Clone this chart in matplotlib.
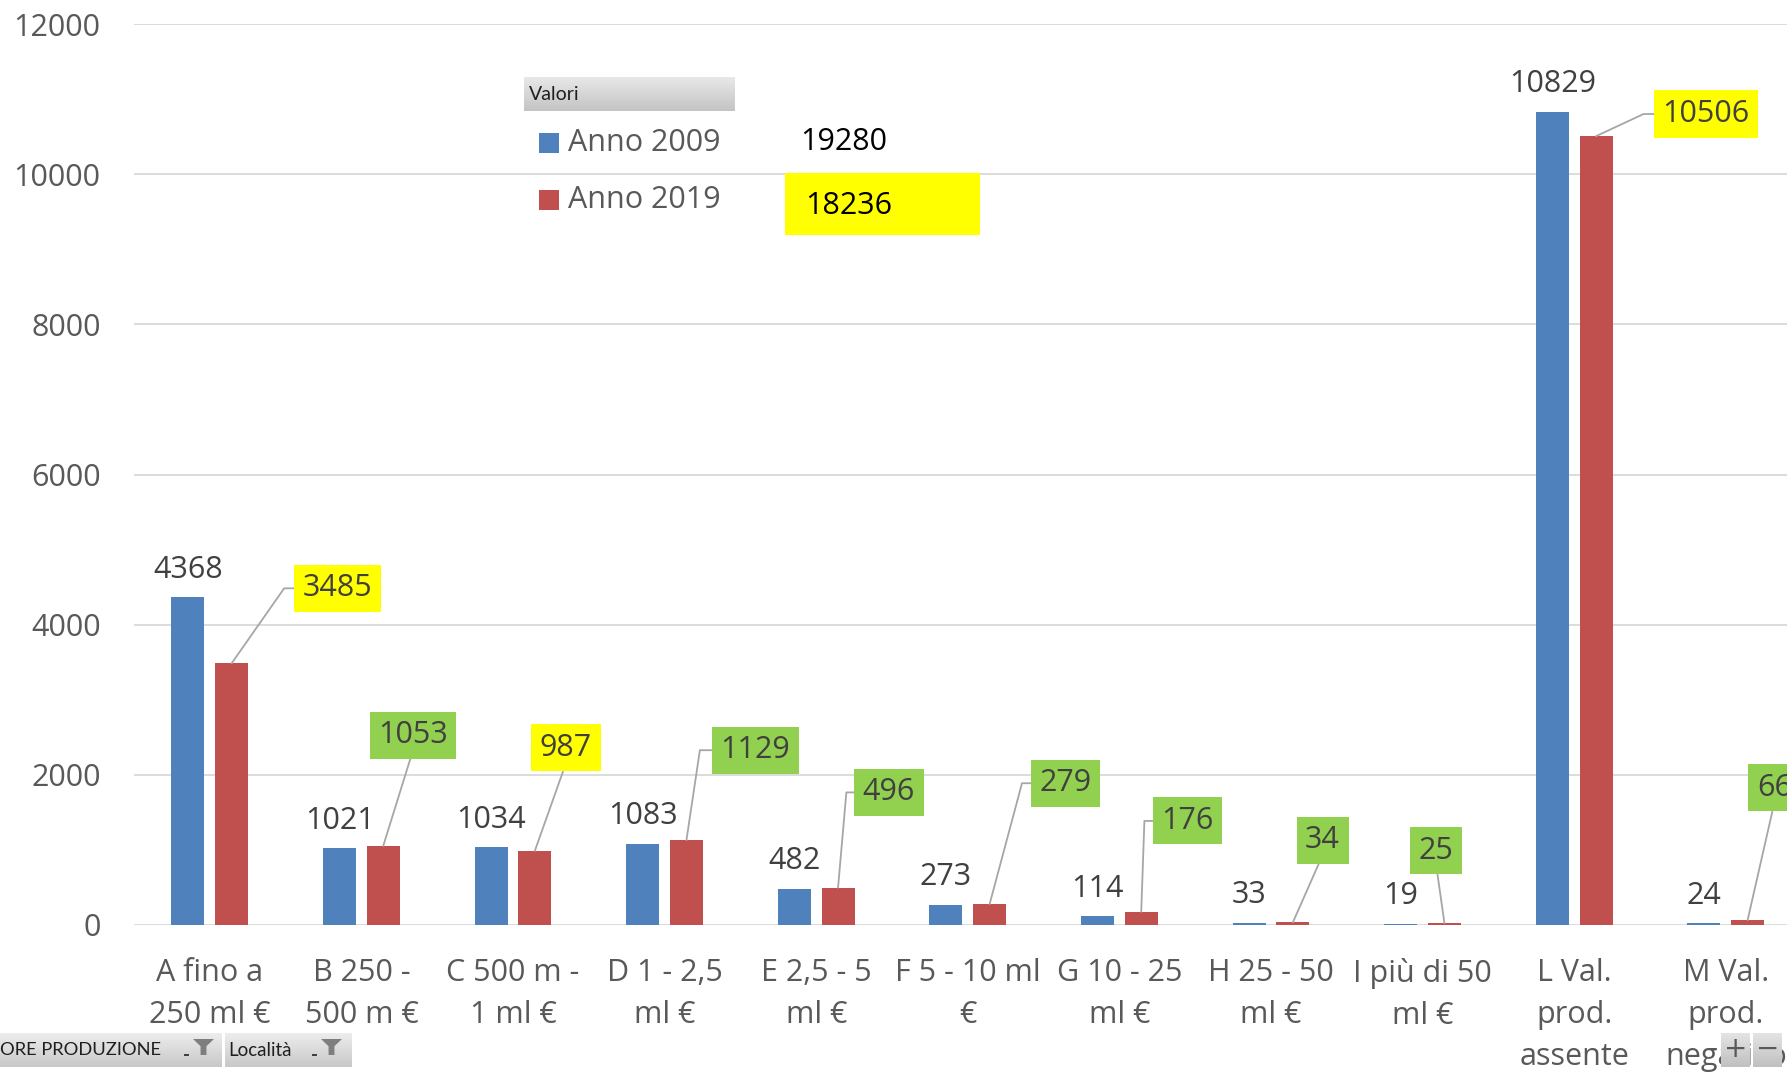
import matplotlib
matplotlib.use('Agg')
import matplotlib.pyplot as plt
from matplotlib.patches import Rectangle, Polygon
from matplotlib.colors import to_rgb
import numpy as np

# ---------------- data ----------------
categories = ["A fino a\n250 ml €", "B 250 -\n500 m €", "C 500 m -\n1 ml €",
              "D 1 - 2,5\nml €", "E 2,5 - 5\nml €", "F 5 - 10 ml\n€",
              "G 10 - 25\nml €", "H 25 - 50\nml €", "I più di 50\nml €",
              "L Val.\nprod.\nassente", "M Val.\nprod.\nnegativo"]
anno_2009 = [4368, 1021, 1034, 1083, 482, 273, 114, 33, 19, 10829, 24]
anno_2019 = [3485, 1053, 987, 1129, 496, 279, 176, 34, 25, 10506, 66]
series_names = ["Anno 2009", "Anno 2019"]
totals = [19280, 18236]
yticks = [0, 2000, 4000, 6000, 8000, 10000, 12000]

# callout placement for the 2019 labels (category offset, y position, leader style)
lab_dx = [0.84, 0.34, 0.35, 0.60, 0.48, 0.645, 0.45, 0.34, 0.09, 0.87, 0.32]
lab_y = [4484, 2525, 2359, 2328, 1766, 1888, 1386, 1129, 992, 10801, 1827]
lab_mode = ['side', 'bottom', 'bottom', 'side', 'side', 'side', 'side', 'bottom', 'bottom', 'side', 'bottom']
lab_ang = [55, 0, 0, 81.5, 85, 75, 88, 0, 0, 25, 0]

# ---------------- style ----------------
BLUE = '#4F81BD'
RED = '#C0504D'
GREEN = '#92D050'
YELLOW = '#FFFF00'
TXT = '#404040'
AX_TXT = '#595959'

plt.rcParams['font.family'] = ['Open Sans', 'DejaVu Sans']

W, H = 1787, 1074
fig = plt.figure(figsize=(W / 100, H / 100), dpi=100)


def fx(x):
    return x / W


def fy(y):
    return 1 - y / H


ax = fig.add_axes([134 / W, (H - 925) / H, 11 * 151.6 / W, 901 / H])
x = np.arange(len(categories))
bw = 0.218
off = 0.144
ax.bar(x - off, anno_2009, width=bw, color=BLUE, zorder=2, label=series_names[0])
ax.bar(x + off, anno_2019, width=bw, color=RED, zorder=2, label=series_names[1])

ax.set_xlim(-0.5, 10.5)
ax.set_ylim(0, 12000)
ax.set_yticks(yticks)
ax.set_yticklabels([str(t) for t in yticks])
ax.yaxis.grid(True, color='#D9D9D9', lw=1.3)
ax.set_axisbelow(True)
for s in ax.spines.values():
    s.set_visible(False)
ax.tick_params(axis='both', length=0, labelsize=22, labelcolor=AX_TXT)
ax.tick_params(axis='y', pad=24)
ax.tick_params(axis='x', pad=24)
ax.set_xticks(x)
ax.set_xticklabels(categories, linespacing=1.52)

# blue value labels
for i, v in enumerate(anno_2009):
    ax.annotate(str(v), (x[i] - off, v), xytext=(0, 9), textcoords='offset points',
                ha='center', va='bottom', fontsize=22, color=TXT)

# red value callouts
for i, v in enumerate(anno_2019):
    col = YELLOW if v < anno_2009[i] else GREEN
    if lab_mode[i] == 'side':
        ap = dict(arrowstyle='-', color='#A6A6A6', lw=1.3, shrinkA=0, shrinkB=0,
                  relpos=(0, 0.5),
                  connectionstyle='angle,angleA=0,angleB=%g,rad=0' % lab_ang[i])
    else:
        ap = dict(arrowstyle='-', color='#A6A6A6', lw=1.3, shrinkA=0, shrinkB=0,
                  relpos=(0.5, 0), connectionstyle='arc3')
    ax.annotate(str(v), (x[i] + off, v), xytext=(x[i] + lab_dx[i], lab_y[i]),
                textcoords='data', ha='center', va='center', fontsize=22, color=TXT,
                bbox=dict(boxstyle='square,pad=0.28', fc=col, ec='none'),
                arrowprops=ap, zorder=4)


# ---------------- legend / pivot decorations ----------------
def grad_box(x0, y0, x1, y1, c_top, c_bot):
    a = fig.add_axes([fx(x0), fy(y1), (x1 - x0) / W, (y1 - y0) / H])
    a.set_axis_off()
    g = np.linspace(0, 1, 64)[:, None, None]
    top = np.array(to_rgb(c_top))[None, None, :]
    bot = np.array(to_rgb(c_bot))[None, None, :]
    img = top * (1 - g) + bot * g
    a.imshow(img, aspect='auto', extent=[0, 1, 0, 1], origin='upper', interpolation='bilinear')
    return a


grad_box(524, 77, 735, 111, '#E8E8E8', '#C4C4C4')
fig.text(fx(529), fy(94), 'Valori', fontsize=14, color='#1F1F1F', va='center', ha='left',
         family=['Lato', 'DejaVu Sans'])

leg_cols = [BLUE, RED]
leg_y = [143, 200]
for c, yy, name in zip(leg_cols, leg_y, series_names):
    fig.patches.append(Rectangle((fx(539), fy(yy + 10)), 20 / W, 20 / H,
                                 transform=fig.transFigure, fc=c, ec='none'))
    fig.text(fx(568), fy(yy), name, fontsize=22, color=AX_TXT, va='center', ha='left')

fig.text(fx(800), fy(142), str(totals[0]), fontsize=22, color='black', va='center', ha='left')
tot_col = YELLOW if totals[1] < totals[0] else GREEN
fig.patches.append(Rectangle((fx(785), fy(235)), 195 / W, 62 / H,
                             transform=fig.transFigure, fc=tot_col, ec='none'))
fig.text(fx(805), fy(206), str(totals[1]), fontsize=22, color='black', va='center', ha='left')

# pivot field buttons (bottom-left)
grad_box(0, 1033, 222, 1067, '#EDEDED', '#C8C8C8')
grad_box(225, 1033, 351, 1067, '#EDEDED', '#C8C8C8')
fig.text(fx(0), fy(1050), 'ORE PRODUZIONE', fontsize=13.2, color='#1F1F1F', va='center',
         ha='left', family=['Lato', 'DejaVu Sans'])
fig.text(fx(228), fy(1050), 'Località', fontsize=13.5, color='#1F1F1F', va='center',
         ha='left', family=['Lato', 'DejaVu Sans'])


def funnel(x0, y0, w, h):
    pts = [(0, 0), (1, 0), (0.64, 0.45), (0.64, 1), (0.36, 1), (0.36, 0.45)]
    xy = [(fx(x0 + px * w), fy(y0 + py * h)) for px, py in pts]
    fig.patches.append(Polygon(xy, closed=True, transform=fig.transFigure,
                               fc='#7F7F7F', ec='none'))
    fig.patches.append(Rectangle((fx(x0 - 9), fy(y0 + h + 1)), 5 / W, 2 / H,
                                 transform=fig.transFigure, fc='#404040', ec='none'))


funnel(193, 1039, 21, 16)
funnel(321, 1039, 21, 16)

# expand / collapse buttons (bottom-right)
grad_box(1721, 1033, 1750, 1067, '#E4E4E4', '#C0C0C0')
grad_box(1753, 1033, 1782, 1067, '#E4E4E4', '#C0C0C0')
fig.text(fx(1735.5), fy(1049), '+', fontsize=20, color='#595959', va='center', ha='center',
         family=['DejaVu Sans'])
fig.text(fx(1767.5), fy(1049), '\u2212', fontsize=20, color='#595959', va='center', ha='center',
         family=['DejaVu Sans'])

fig.savefig('out.png', dpi=100)
